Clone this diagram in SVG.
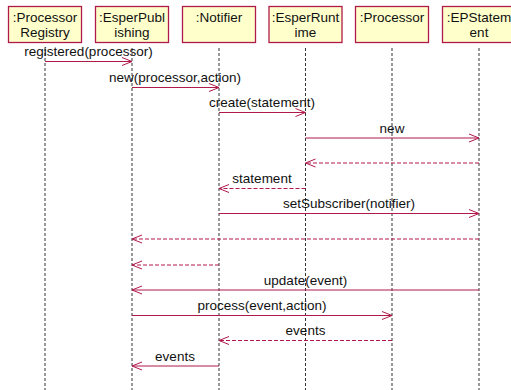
<svg xmlns="http://www.w3.org/2000/svg" width="511" height="390" viewBox="0 0 511 390">
<defs>
<marker id="open" markerUnits="userSpaceOnUse" markerWidth="14" markerHeight="12" refX="11" refY="5" orient="auto" overflow="visible">
<path d="M1,1 L11,5 L1,9" fill="none" stroke="#b01a4b" stroke-width="1"/>
</marker>
</defs>
<style>
.box{fill:#ffffcc;stroke:#b01a4b;stroke-width:1.3}
.t{font-family:"Liberation Sans",Arial,sans-serif;font-size:13.5px;fill:#111;text-anchor:middle}
.life{stroke:#333;stroke-width:1;stroke-dasharray:3,2;fill:none}
.msg{stroke:#b01a4b;stroke-width:1;fill:none;marker-end:url(#open)}
.ret{stroke:#b01a4b;stroke-width:1;fill:none;stroke-dasharray:4,2;marker-end:url(#open)}
</style>
<rect width="511" height="390" fill="#ffffff"/>
<g id="lifelines">
<line class="life" x1="45" y1="48" x2="45" y2="390"/>
<line class="life" x1="132" y1="48" x2="132" y2="390"/>
<line class="life" x1="219" y1="48" x2="219" y2="390"/>
<line class="life" x1="305.5" y1="48" x2="305.5" y2="390"/>
<line class="life" x1="392" y1="48" x2="392" y2="390"/>
<line class="life" x1="479" y1="48" x2="479" y2="390"/>
</g>
<g id="n1"><rect class="box" x="8.5" y="6.5" width="73" height="36"/><text class="t" x="45" y="21.5">:Processor</text><text class="t" x="45" y="36.5">Registry</text></g>
<g id="n2"><rect class="box" x="95.5" y="6.5" width="73" height="36"/><text class="t" x="132" y="21.5">:EsperPubl</text><text class="t" x="132" y="36.5">ishing</text></g>
<g id="n3"><rect class="box" x="182.5" y="6.5" width="73" height="36"/><text class="t" x="219" y="21.5">:Notifier</text></g>
<g id="n4"><rect class="box" x="269" y="6.5" width="73" height="36"/><text class="t" x="305.5" y="21.5">:EsperRunt</text><text class="t" x="305.5" y="36.5">ime</text></g>
<g id="n5"><rect class="box" x="355.5" y="6.5" width="73" height="36"/><text class="t" x="392" y="21.5">:Processor</text></g>
<g id="n6"><rect class="box" x="442.5" y="6.5" width="73" height="36"/><text class="t" x="479" y="21.5">:EPStatem</text><text class="t" x="479" y="36.5">ent</text></g>
<g id="connectors">
<line class="msg" x1="45" y1="61.5" x2="132" y2="61.5"/>
<text class="t" x="88.5" y="56">registered(processor)</text>
<line class="msg" x1="132" y1="87.5" x2="219" y2="87.5"/>
<text class="t" x="175" y="81.5">new(processor,action)</text>
<line class="msg" x1="219" y1="112.5" x2="305.5" y2="112.5"/>
<text class="t" x="262" y="107">create(statement)</text>
<line class="msg" x1="305.5" y1="138" x2="479" y2="138"/>
<text class="t" x="392" y="132.5">new</text>
<line class="ret" x1="479" y1="163" x2="305.5" y2="163"/>
<line class="ret" x1="305.5" y1="188.5" x2="219" y2="188.5"/>
<text class="t" x="262" y="183">statement</text>
<line class="msg" x1="219" y1="213.5" x2="479" y2="213.5"/>
<text class="t" x="349" y="208">setSubscriber(notifier)</text>
<line class="ret" x1="479" y1="239" x2="132" y2="239"/>
<line class="ret" x1="219" y1="265" x2="132" y2="265"/>
<line class="msg" x1="479" y1="290" x2="132" y2="290"/>
<text class="t" x="305.5" y="285">update(event)</text>
<line class="msg" x1="132" y1="315.5" x2="392" y2="315.5"/>
<text class="t" x="262" y="310">process(event,action)</text>
<line class="ret" x1="392" y1="340.5" x2="219" y2="340.5"/>
<text class="t" x="305.5" y="335">events</text>
<line class="msg" x1="219" y1="366" x2="132" y2="366"/>
<text class="t" x="175" y="360.5">events</text>
</g>
</svg>
